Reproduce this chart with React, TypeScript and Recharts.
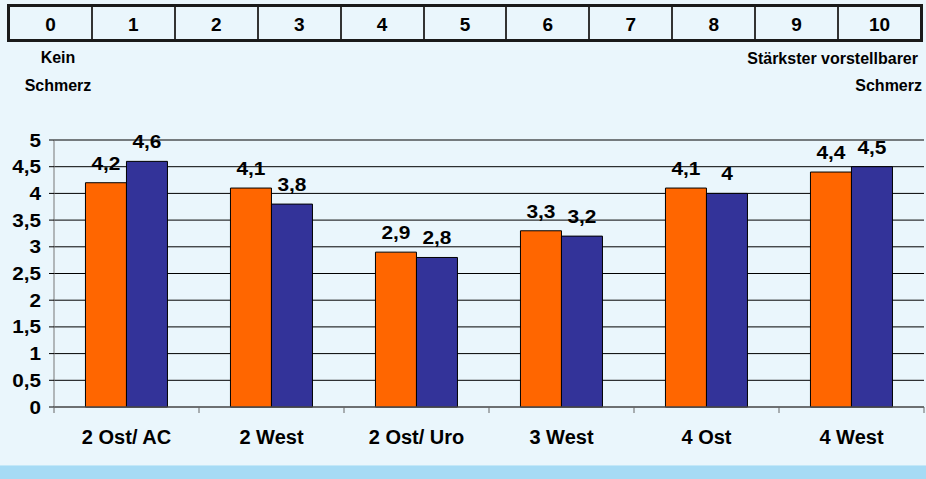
import React from 'react';
import { BarChart, Bar, XAxis, YAxis, CartesianGrid, LabelList } from 'recharts';

const scaleLabels = ['0', '1', '2', '3', '4', '5', '6', '7', '8', '9', '10'];
const categories = ['2 Ost/ AC', '2 West', '2 Ost/ Uro', '3 West', '4 Ost', '4 West'];
const seriesOrange = [4.2, 4.1, 2.9, 3.3, 4.1, 4.4];
const seriesBlue = [4.6, 3.8, 2.8, 3.2, 4.0, 4.5];
const yTicks = [0, 0.5, 1, 1.5, 2, 2.5, 3, 3.5, 4, 4.5, 5];

const data = categories.map((c, i) => ({ name: c, a: seriesOrange[i], b: seriesBlue[i] }));

const FONT = '"Liberation Sans", Arial, Helvetica, sans-serif';
const fmt = (v: number) => String(v).replace('.', ',');

const W = 926;
const H = 479;
const MARGIN = { top: 140, right: 2, left: 0, bottom: 32 };
const Y_W = 54;
const X_H = 40;
const TICK_SIZE = 6;
const TICK_MARGIN = 2;

const YTick = (props: any) => {
  const { x, y, payload } = props;
  return (
    <g transform={`translate(${x},${y}) scale(1.15,1)`}>
      <text x={0} y={0} dy={6.5} textAnchor="end" fontFamily={FONT} fontWeight="bold" fontSize={18} fill="#000">
        {fmt(payload.value)}
      </text>
    </g>
  );
};

const XTick = (props: any) => {
  const { x, y, payload, index } = props;
  const plotW = W - MARGIN.left - MARGIN.right - Y_W;
  const half = payload && payload.offset ? payload.offset : plotW / categories.length / 2;
  const axisY = y - TICK_SIZE - TICK_MARGIN;
  return (
    <g>
      <line x1={x - half} x2={x - half} y1={axisY} y2={axisY + 6} stroke="#666" strokeWidth={1} />
      {index === categories.length - 1 && (
        <line x1={x + half} x2={x + half} y1={axisY} y2={axisY + 6} stroke="#666" strokeWidth={1} />
      )}
      <text x={x} y={axisY} dy={37} textAnchor="middle" fontFamily={FONT} fontWeight="bold" fontSize={20} fill="#000">
        {payload.value}
      </text>
    </g>
  );
};

const ValueLabel = (props: any) => {
  const { x, y, width, value } = props;
  const cx = Number(x) + Number(width) / 2;
  const ty = Number(y) - 13;
  return (
    <g transform={`translate(${cx},${ty}) scale(1.1,1)`}>
      <text x={0} y={0} textAnchor="middle" fontFamily={FONT} fontWeight="bold" fontSize={19} fill="#000">
        {fmt(value)}
      </text>
    </g>
  );
};

const sideLabel: React.CSSProperties = {
  position: 'absolute',
  fontWeight: 'bold',
  fontSize: 16,
  lineHeight: '18px',
  color: '#000',
  whiteSpace: 'nowrap',
};

export default function App() {
  return (
    <div
      style={{
        position: 'absolute',
        left: 0,
        top: 0,
        width: W,
        height: H,
        background: '#EAF6FC',
        overflow: 'hidden',
        fontFamily: FONT,
      }}
    >
      <div style={{ position: 'absolute', left: 0, top: 465, width: W, height: 14, background: '#A6DBF5', borderTop: '1px solid #C4E8F8' }} />
      <div
        style={{
          position: 'absolute',
          left: 7,
          top: 4,
          width: 916,
          height: 38,
          border: '3px solid #1a1a1a',
          boxSizing: 'border-box',
          display: 'flex',
        }}
      >
        {scaleLabels.map((s, i) => (
          <div
            key={s}
            style={{
              flex: 1,
              borderLeft: i === 0 ? 'none' : '2px solid #333',
              display: 'flex',
              alignItems: 'center',
              justifyContent: 'center',
              fontWeight: 'bold',
              fontSize: 19,
              paddingTop: 3,
              boxSizing: 'border-box',
              color: '#000',
            }}
          >
            {s}
          </div>
        ))}
      </div>
      <div style={{ ...sideLabel, left: 0, width: 116, top: 49, textAlign: 'center' }}>Kein</div>
      <div style={{ ...sideLabel, left: 0, width: 116, top: 77, textAlign: 'center' }}>Schmerz</div>
      <div style={{ ...sideLabel, right: 8, top: 50, textAlign: 'right' }}>Stärkster vorstellbarer</div>
      <div style={{ ...sideLabel, right: 4, top: 77, textAlign: 'right' }}>Schmerz</div>
      <div style={{ position: 'absolute', left: 0, top: 0 }}>
        <BarChart width={W} height={H} data={data} margin={MARGIN} barCategoryGap="21.7%" barGap={0}>
          <CartesianGrid vertical={false} stroke="#000" strokeOpacity={1} />
          <XAxis
            dataKey="name"
            height={X_H}
            interval={0}
            axisLine={{ stroke: '#666' }}
            tickLine={{ stroke: 'transparent' }}
            tickSize={TICK_SIZE}
            tickMargin={TICK_MARGIN}
            tick={<XTick />}
          />
          <YAxis
            width={Y_W}
            domain={[0, 5]}
            ticks={yTicks}
            interval={0}
            axisLine={{ stroke: '#777' }}
            tickLine={{ stroke: '#000' }}
            tickSize={5}
            tickMargin={8}
            tick={<YTick />}
          />
          <Bar dataKey="a" fill="#FF6600" stroke="#000" strokeWidth={1} isAnimationActive={false}>
            <LabelList dataKey="a" content={<ValueLabel />} />
          </Bar>
          <Bar dataKey="b" fill="#333399" stroke="#000" strokeWidth={1} isAnimationActive={false}>
            <LabelList dataKey="b" content={<ValueLabel />} />
          </Bar>
        </BarChart>
      </div>
    </div>
  );
}
